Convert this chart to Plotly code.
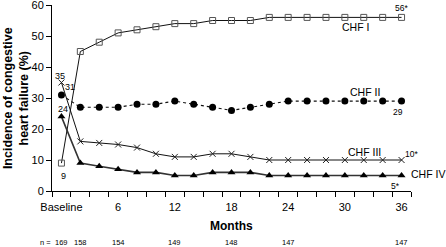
import plotly.graph_objects as go

months = [0, 2, 4, 6, 8, 10, 12, 14, 16, 18, 20, 22, 24, 26, 28, 30, 32, 34, 36]
chf1 = [9, 45, 48, 51, 52, 53, 54, 54, 55, 55, 55, 56, 56, 56, 56, 56, 56, 56, 56]
chf2 = [31, 27, 27, 27, 28, 28, 29, 28, 27, 26, 27, 28, 29, 29, 29, 29, 29, 29, 29]
chf3 = [35, 16, 15.5, 15, 14, 12, 11, 11, 12, 12, 11, 10, 10, 10, 10, 10, 10, 10, 10]
chf4 = [24, 9, 8, 7, 6, 6, 5, 5, 6, 6, 6, 5, 5, 5, 5, 5, 5, 5, 5]

tick_vals = [0, 6, 12, 18, 24, 30, 36]
tick_text = ["Baseline", "6", "12", "18", "24", "30", "36"]
minor_ticks = list(range(-1, 38, 2))

n_months = [0, 2, 6, 12, 18, 24, 36]
n_values = ["169", "158", "154", "149", "148", "147", "147"]

FONT = "Liberation Sans, Arial, sans-serif"

fig = go.Figure()
fig.add_trace(go.Scatter(x=months, y=chf1, mode="lines+markers", name="CHF I",
                         line=dict(color="#111", width=1),
                         marker=dict(symbol="square-open", size=6, color="#555", line=dict(width=1))))
fig.add_trace(go.Scatter(x=months, y=chf2, mode="lines+markers", name="CHF II",
                         line=dict(color="#111", width=1.1, dash="dot"),
                         marker=dict(symbol="circle", size=7, color="#000")))
fig.add_trace(go.Scatter(x=months, y=chf3, mode="lines+markers", name="CHF III",
                         line=dict(color="#111", width=1),
                         marker=dict(symbol="x-thin-open", size=6, color="#222", line=dict(width=1))))
fig.add_trace(go.Scatter(x=months, y=chf4, mode="lines+markers", name="CHF IV",
                         line=dict(color="#333", width=1.6),
                         marker=dict(symbol="triangle-up", size=7, color="#000")))

def lab(x, y, text, size=8.5, xanchor="center", yanchor="middle"):
    fig.add_annotation(x=x, y=y, text=text, showarrow=False, xref="x", yref="y",
                       xanchor=xanchor, yanchor=yanchor,
                       font=dict(family=FONT, size=size, color="#000"))

lab(36, 59, "56*")
lab(31.1, 53, "CHF I", size=10.5)
lab(32.1, 32, "CHF II", size=10.5)
lab(35.6, 25.5, "29")
lab(32.1, 12.6, "CHF III", size=10.5)
lab(36.2, 11.9, "10*", xanchor="left")
lab(36.8, 5.5, "CHF IV", size=10.5, xanchor="left")
lab(35.4, 1.6, "5*")
lab(-0.15, 37, "35", size=9)
lab(0.9, 33.5, "31", size=9)
lab(0.2, 26.5, "24", size=9)
lab(0.2, 4.8, "9", size=9)

# n row (paper y: pixel 242 -> (191-242)/186)
N_Y = (191 - 242) / 186
fig.add_annotation(x=(45 - 52) / 359, y=N_Y, text="n =", showarrow=False, xref="paper", yref="paper",
                   xanchor="center", yanchor="middle", font=dict(family=FONT, size=7.5, color="#000"))
for m, v in zip(n_months, n_values):
    fig.add_annotation(x=m, y=N_Y, text=v, showarrow=False, xref="x", yref="paper",
                       xanchor="center", yanchor="middle", font=dict(family=FONT, size=7.5, color="#000"))

fig.add_annotation(x=18, y=(191 - 226) / 186, text="<b>Months</b>", showarrow=False, xref="x", yref="paper",
                   xanchor="center", yanchor="middle", font=dict(family=FONT, size=12, color="#000"))
fig.add_annotation(x=-0.1, y=0.5, text="<b>Incidence of congestive<br>heart failure (%)</b>",
                   showarrow=False, xref="paper", yref="paper", textangle=-90,
                   xanchor="center", yanchor="middle",
                   font=dict(family=FONT, size=12.5, color="#000"))

fig.update_xaxes(range=[-1, 37], tickvals=tick_vals, ticktext=tick_text, automargin=False,
                 ticks="outside", ticklen=6, tickcolor="rgba(0,0,0,0)", ticklabeloverflow="allow",
                 minor=dict(tickvals=minor_ticks, ticks="outside", ticklen=5, tickcolor="#000", tickwidth=1),
                 showline=True, linecolor="#000", linewidth=1, showgrid=False, zeroline=False,
                 tickfont=dict(family=FONT, size=11, color="#000"))
fig.update_yaxes(range=[0, 60], tickvals=[0, 10, 20, 30, 40, 50, 60], automargin=False,
                 ticks="outside", ticklen=5, tickcolor="#000", tickwidth=1, ticklabeloverflow="allow",
                 showline=True, linecolor="#000", linewidth=1, showgrid=False, zeroline=False,
                 tickfont=dict(family=FONT, size=11, color="#000"))
fig.update_layout(width=446, height=247, margin=dict(l=52, r=35, t=5, b=56),
                  paper_bgcolor="white", plot_bgcolor="white", showlegend=False,
                  font=dict(family=FONT))
fig.write_html("out.html", config={"displayModeBar": False},
               post_script="document.body.style.margin='0';document.body.style.overflow='hidden';")
